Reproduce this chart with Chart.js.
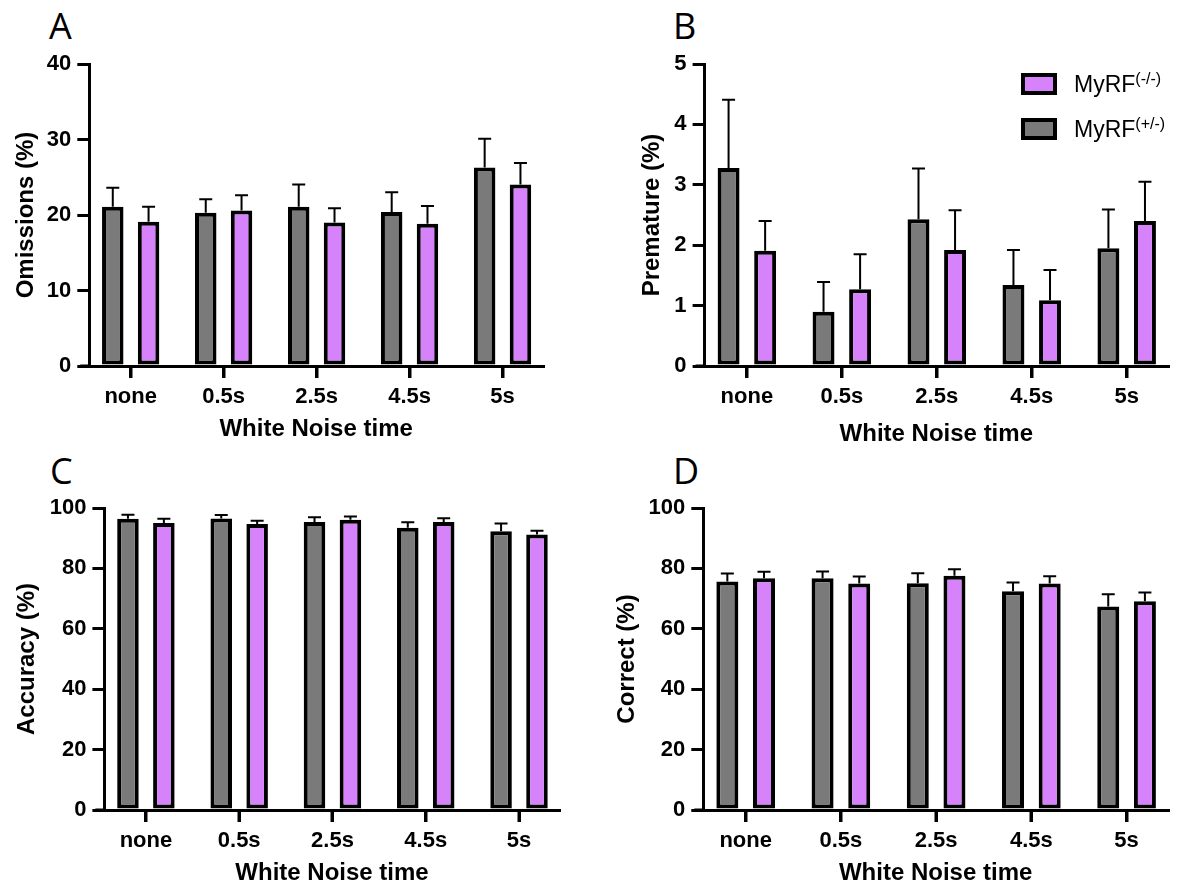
<!DOCTYPE html>
<html>
<head>
<meta charset="utf-8">
<script src="https://cdn.jsdelivr.net/npm/chart.js@4.4.1/dist/chart.umd.min.js"></script>
<style>
  body { margin: 0; background: #fff; width: 1191px; height: 888px; position: relative; overflow: hidden; }
  canvas { position: absolute; }
  .letter { position: absolute; font-family: 'Open Sans', sans-serif; font-size: 36px; line-height: 36px; color: #000; }
  .item { position: absolute; left: 1021px; font-family: 'Liberation Sans', Arial, sans-serif; font-size: 23px; line-height: 23px; color: #000; white-space: nowrap; }
  .item .box { position: absolute; left: 0; top: 0; width: 36px; height: 22px; border: 4px solid #000; box-sizing: border-box; }
  .item .txt { position: absolute; left: 53px; top: 0; }
  .item sup { font-size: 16px; position: relative; top: -8px; vertical-align: baseline; }
</style>
</head>
<body>
<div class="letter" style="left:49px;top:8px">A</div>
<div class="letter" style="left:673px;top:8px">B</div>
<div class="letter" style="left:50px;top:453px">C</div>
<div class="letter" style="left:673px;top:453px">D</div>

<canvas id="chartA" width="600" height="470" style="left:0;top:0"></canvas>
<canvas id="chartB" width="591" height="470" style="left:600px;top:0"></canvas>
<canvas id="chartC" width="600" height="470" style="left:0;top:444px"></canvas>
<canvas id="chartD" width="591" height="470" style="left:600px;top:444px"></canvas>

<div class="item" style="top:73px"><span class="box" style="background:#d682fa"></span><span class="txt">MyRF<sup>(-/-)</sup></span></div>
<div class="item" style="top:118px"><span class="box" style="background:#7a7a7a"></span><span class="txt">MyRF<sup>(+/-)</sup></span></div>

<script>
const categories = ['none', '0.5s', '2.5s', '4.5s', '5s'];

// MyRF(+/-) = het (grey), MyRF(-/-) = ko (purple); mean and SEM
const omissionsHet = [21.1, 20.3, 21.1, 20.4, 26.3];
const omissionsHetSem = [2.5, 1.8, 2.95, 2.6, 3.8];
const omissionsKo = [19.1, 20.6, 19.0, 18.85, 24.05];
const omissionsKoSem = [2.0, 2.0, 1.9, 2.35, 2.85];

const prematureHet = [3.28, 0.90, 2.43, 1.34, 1.95];
const prematureHetSem = [1.13, 0.49, 0.84, 0.58, 0.64];
const prematureKo = [1.91, 1.27, 1.92, 1.09, 2.40];
const prematureKoSem = [0.49, 0.58, 0.66, 0.50, 0.65];

const accuracyHet = [96.4, 96.5, 95.4, 93.5, 92.3];
const accuracyHetSem = [1.4, 1.2, 1.5, 1.8, 2.6];
const accuracyKo = [95.0, 94.7, 96.1, 95.4, 91.2];
const accuracyKoSem = [1.4, 1.1, 1.1, 1.2, 1.3];

const correctHet = [75.7, 76.7, 75.1, 72.4, 67.4];
const correctHetSem = [2.6, 2.3, 3.3, 2.9, 4.0];
const correctKo = [76.7, 75.0, 77.6, 75.0, 69.1];
const correctKoSem = [2.2, 2.3, 2.1, 2.4, 2.9];

const GREY = '#7a7a7a';
const PURPLE = '#d682fa';

Chart.defaults.font.family = "'Liberation Sans', Arial, Helvetica, sans-serif";
Chart.defaults.color = '#000';

// SEM bars (upwards only)
const errorBars = {
    id: 'errorBars',
    afterDatasetsDraw(chart) {
        const ctx = chart.ctx;
        const yScale = chart.scales.y;
        ctx.save();
        ctx.strokeStyle = '#000';
        ctx.lineWidth = 2;
        chart.data.datasets.forEach((ds, i) => {
            chart.getDatasetMeta(i).data.forEach((bar, j) => {
                const top = yScale.getPixelForValue(ds.data[j].y + ds.sem[j]);
                ctx.beginPath();
                ctx.moveTo(bar.x, bar.y);
                ctx.lineTo(bar.x, top);
                ctx.moveTo(bar.x - 6.5, top);
                ctx.lineTo(bar.x + 6.5, top);
                ctx.stroke();
            });
        });
        ctx.restore();
    }
};

// tick marks under the x-axis and the short piece of x-axis left of the y-axis
const axisMarks = {
    id: 'axisMarks',
    afterDraw(chart) {
        const ctx = chart.ctx;
        const xScale = chart.scales.x;
        const y0 = chart.scales.y.getPixelForValue(0);
        const a = chart.chartArea;
        ctx.save();
        ctx.fillStyle = '#000';
        categories.forEach((c, i) => {
            const px = Math.round(xScale.getPixelForValue(i));
            ctx.fillRect(px - 1.5, y0, 3, 12);
        });
        ctx.fillRect(a.left - 9, y0 - 1.5, 9, 3);
        ctx.restore();
    }
};

function barSet(label, values, sem, color) {
    return {
        label: label,
        data: values.map((v, i) => ({ x: i, y: v })),
        sem: sem,
        backgroundColor: color,
        borderColor: '#000',
        borderWidth: 4,
        borderSkipped: false,
        categoryPercentage: 0.77,
        barPercentage: 0.6
    };
}

function drawPanel(id, yTitle, yMax, yStep, het, hetSem, ko, koSem, box) {
    const canvas = document.getElementById(id);
    const tickFont = { size: 22, weight: 'bold' };
    const titleFont = { size: 24, weight: 'bold' };
    new Chart(canvas.getContext('2d'), {
        type: 'bar',
        data: {
            datasets: [
                barSet('MyRF(+/-)', het, hetSem, GREY),
                barSet('MyRF(-/-)', ko, koSem, PURPLE)
            ]
        },
        options: {
            responsive: false,
            animation: false,
            layout: { padding: { top: box.top, right: canvas.width - box.right, left: 0, bottom: 0 } },
            plugins: { legend: { display: false }, tooltip: { enabled: false } },
            scales: {
                x: {
                    type: 'linear',
                    offset: false,
                    min: -0.445,
                    max: 4.435,
                    afterBuildTicks: s => { s.ticks = categories.map((c, i) => ({ value: i })); },
                    afterFit: s => { s.height = canvas.height - box.bottom; },
                    grid: { offset: false, drawOnChartArea: false, tickLength: 12, lineWidth: 3, color: '#000' },
                    border: { color: '#000', width: 3 },
                    ticks: { callback: v => categories[v], padding: 6, maxRotation: 0, autoSkip: false, font: tickFont },
                    title: { display: true, text: 'White Noise time', font: titleFont, padding: { top: 0, bottom: box.xTitle } }
                },
                y: {
                    min: 0,
                    max: yMax,
                    afterFit: s => { s.width = box.left; },
                    grid: { drawOnChartArea: false, tickLength: 12, lineWidth: 3, color: '#000' },
                    border: { color: '#000', width: 3 },
                    ticks: { stepSize: yStep, padding: 6, font: tickFont },
                    title: { display: true, text: yTitle, font: titleFont, padding: { top: box.yTitle, bottom: 0 } }
                }
            }
        },
        plugins: [errorBars, axisMarks]
    });
}

drawPanel('chartA', 'Omissions (%)', 40, 10, omissionsHet, omissionsHetSem, omissionsKo, omissionsKoSem,
    { left: 89.3, right: 543, top: 64, bottom: 366, xTitle: 26, yTitle: 11.6 });
drawPanel('chartB', 'Premature (%)', 5, 1, prematureHet, prematureHetSem, prematureKo, prematureKoSem,
    { left: 104.6, right: 568, top: 64, bottom: 366, xTitle: 21, yTitle: 37.6 });
drawPanel('chartC', 'Accuracy (%)', 100, 20, accuracyHet, accuracyHetSem, accuracyKo, accuracyKoSem,
    { left: 104.4, right: 559.6, top: 64, bottom: 366, xTitle: 26.6, yTitle: 12.6 });
drawPanel('chartD', 'Correct (%)', 100, 20, correctHet, correctHetSem, correctKo, correctKoSem,
    { left: 103.3, right: 568, top: 64, bottom: 366, xTitle: 26.6, yTitle: 12.6 });
</script>
</body>
</html>
